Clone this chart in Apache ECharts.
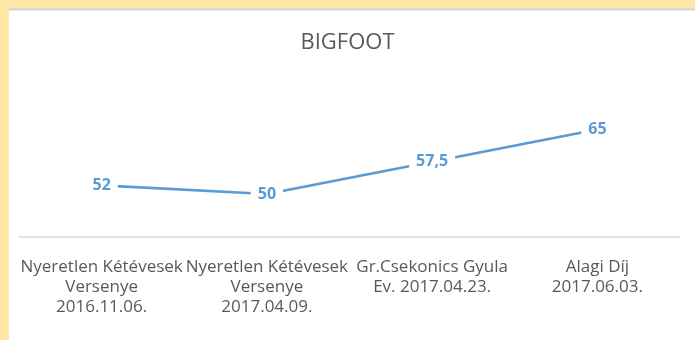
<!DOCTYPE html>
<html>
<head>
<meta charset="utf-8">
<script src="https://cdn.jsdelivr.net/npm/echarts@6/dist/echarts.min.js"></script>
<style>
  html, body { margin: 0; padding: 0; background: #FFE8A6; }
  #chart { width: 695px; height: 340px; }
</style>
</head>
<body>
<div id="chart"></div>
<script>
// Race names with dates, one per category
const categories = [
  'Nyeretlen Kétévesek\nVersenye\n2016.11.06.',
  'Nyeretlen Kétévesek\nVersenye\n2017.04.09.',
  'Gr.Csekonics Gyula\nEv. 2017.04.23.',
  'Alagi Díj\n2017.06.03.'
];
// Ratings per race
const ratings = [52, 50, 57.5, 65];
const chartTitle = 'BIGFOOT';

const font = '"Open Sans", "Noto Sans", sans-serif';
const chart = echarts.init(document.getElementById('chart'), null, { renderer: 'canvas' });

chart.setOption({
  backgroundColor: '#FFE8A6',
  animation: false,
  graphic: [
    { type: 'rect', z: -10, shape: { x: 9, y: 10, width: 690, height: 335 }, style: { fill: '#ffffff' } },
    { type: 'line', z: -9, shape: { x1: 9, y1: 9.5, x2: 695, y2: 9.5 }, style: { stroke: '#D3D3D3', lineWidth: 2 } }
  ],
  title: {
    text: chartTitle,
    left: 'center',
    top: 27,
    textStyle: { fontFamily: font, fontSize: 22, fontWeight: 'normal', color: '#595959' }
  },
  grid: { left: 19, right: 15, top: 108, bottom: 103 },
  xAxis: {
    type: 'category',
    data: categories,
    boundaryGap: true,
    axisLine: { lineStyle: { color: '#D9D9D9', width: 1.5 } },
    axisTick: { show: false },
    axisLabel: {
      interval: 0,
      margin: 20,
      fontFamily: font,
      fontSize: 17,
      lineHeight: 20,
      color: '#595959'
    }
  },
  yAxis: {
    type: 'value',
    min: 40,
    max: 70,
    show: false,
    splitLine: { show: false }
  },
  series: [{
    type: 'line',
    data: ratings,
    symbol: 'circle',
    symbolSize: 1,
    itemStyle: { color: '#5B9BD5' },
    lineStyle: { color: '#5B9BD5', width: 2.75 },
    label: {
      show: true,
      position: 'inside',
      fontFamily: font,
      fontSize: 16,
      fontWeight: 'bold',
      color: '#5B9BD5',
      backgroundColor: '#ffffff',
      padding: [2, 7],
      formatter: p => String(p.value).replace('.', ',')
    }
  }]
});
</script>
</body>
</html>
